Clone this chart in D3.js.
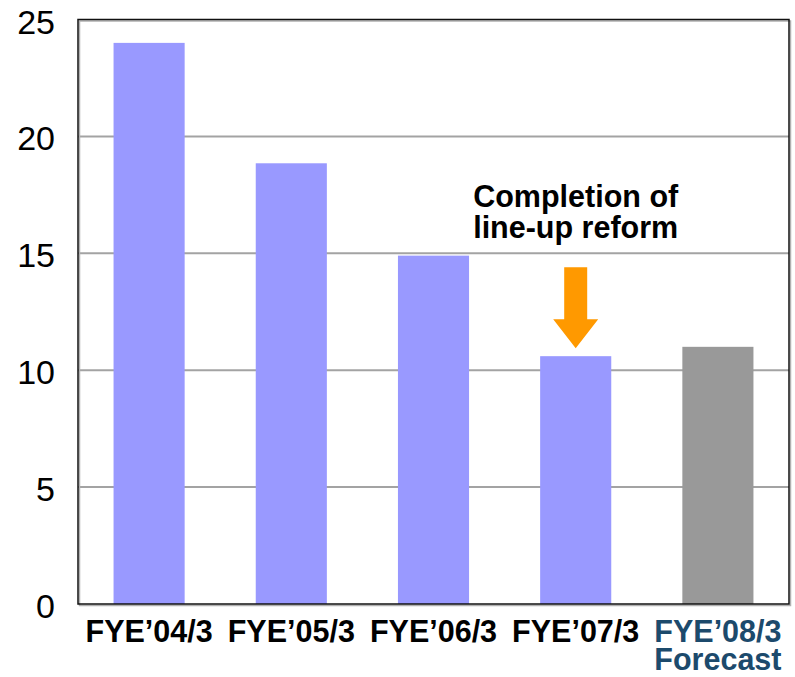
<!DOCTYPE html>
<html>
<head>
<meta charset="utf-8">
<script src="https://cdn.jsdelivr.net/npm/d3@7"></script>
<style>
  html, body { margin: 0; padding: 0; background: #fff; }
  text { font-family: Arial, "Liberation Sans", sans-serif; }
</style>
</head>
<body>
<div id="chart"></div>
<script>
// data
var years = ['FYE\u201904/3', 'FYE\u201905/3', 'FYE\u201906/3', 'FYE\u201907/3', 'FYE\u201908/3'];
var values = [24.0, 18.85, 14.9, 10.6, 11.0];
var forecast = [false, false, false, false, true];
var yTicks = [0, 5, 10, 15, 20, 25];
var noteLines = ['Completion of', 'line-up reform'];
var noteYear = 'FYE\u201907/3';

var width = 795, height = 677;
var margin = {left: 78, right: 6, top: 19.5, bottom: 73};

var svg = d3.select('#chart').append('svg')
    .attr('width', width)
    .attr('height', height);

var x = d3.scaleBand()
    .domain(years)
    .range([margin.left, width - margin.right])
    .paddingInner(0.5)
    .paddingOuter(0.25);

var y = d3.scaleLinear()
    .domain([0, 25])
    .range([height - margin.bottom, margin.top]);

// gridlines
svg.append('g')
    .selectAll('line')
    .data(yTicks.filter(function (d) { return d > 0 && d < 25; }))
    .enter()
    .append('line')
    .attr('x1', margin.left)
    .attr('x2', width - margin.right)
    .attr('y1', function (d) { return y(d); })
    .attr('y2', function (d) { return y(d); })
    .style('stroke', '#a3a3a3')
    .style('stroke-width', '2px');

// bars
svg.append('g')
    .selectAll('rect')
    .data(values)
    .enter()
    .append('rect')
    .attr('x', function (d, i) { return x(years[i]); })
    .attr('y', function (d) { return y(d); })
    .attr('width', x.bandwidth())
    .attr('height', function (d) { return y(0) - y(d); })
    .style('fill', function (d, i) { return forecast[i] ? '#999999' : '#9999ff'; });

// frame
svg.append('rect')
    .attr('x', margin.left + 1.5)
    .attr('y', margin.top + 1.5)
    .attr('width', width - margin.right - margin.left)
    .attr('height', y(0) - margin.top)
    .style('fill', 'none')
    .style('stroke', '#b0b0b0')
    .style('stroke-width', '1.5px');
svg.append('rect')
    .attr('x', margin.left)
    .attr('y', margin.top)
    .attr('width', width - margin.right - margin.left)
    .attr('height', y(0) - margin.top)
    .style('fill', 'none')
    .style('stroke', '#111')
    .style('stroke-width', '1.5px');

// y tick labels
svg.append('g')
    .selectAll('text')
    .data(yTicks)
    .enter()
    .append('text')
    .attr('x', 55)
    .attr('y', function (d) { return y(d) + 14; })
    .attr('text-anchor', 'end')
    .attr('font-size', '34px')
    .style('fill', '#000')
    .text(function (d) { return d; });

// x labels
var xl = svg.append('g')
    .selectAll('text')
    .data(years)
    .enter()
    .append('text')
    .attr('x', function (d) { return x(d) + x.bandwidth() / 2; })
    .attr('y', 642)
    .attr('text-anchor', 'middle')
    .attr('font-size', '30.5px')
    .attr('font-weight', 'bold')
    .style('fill', function (d, i) { return forecast[i] ? '#1c4a6c' : '#000'; })
    .text(function (d) { return d; });

// second line for the forecast year
svg.append('text')
    .attr('x', x(years[4]) + x.bandwidth() / 2)
    .attr('y', 670)
    .attr('text-anchor', 'middle')
    .attr('font-size', '30.5px')
    .attr('font-weight', 'bold')
    .style('fill', '#1c4a6c')
    .text('Forecast');

// annotation
var cx = x(noteYear) + x.bandwidth() / 2;
svg.append('g')
    .selectAll('text')
    .data(noteLines)
    .enter()
    .append('text')
    .attr('x', cx)
    .attr('y', function (d, i) { return 207 + i * 31; })
    .attr('text-anchor', 'middle')
    .attr('font-size', '30.5px')
    .attr('font-weight', 'bold')
    .style('fill', '#000')
    .text(function (d) { return d; });

// arrow pointing down at the FYE'07/3 bar
var tip = y(10.94), headTop = y(12.18), shaftTop = y(14.4);
svg.append('path')
    .attr('d', 'M' + (cx - 11.5) + ',' + shaftTop +
        'L' + (cx + 11.5) + ',' + shaftTop +
        'L' + (cx + 11.5) + ',' + headTop +
        'L' + (cx + 22.5) + ',' + headTop +
        'L' + cx + ',' + tip +
        'L' + (cx - 22.5) + ',' + headTop +
        'L' + (cx - 11.5) + ',' + headTop + 'Z')
    .style('fill', '#ff9900');
</script>
</body>
</html>
